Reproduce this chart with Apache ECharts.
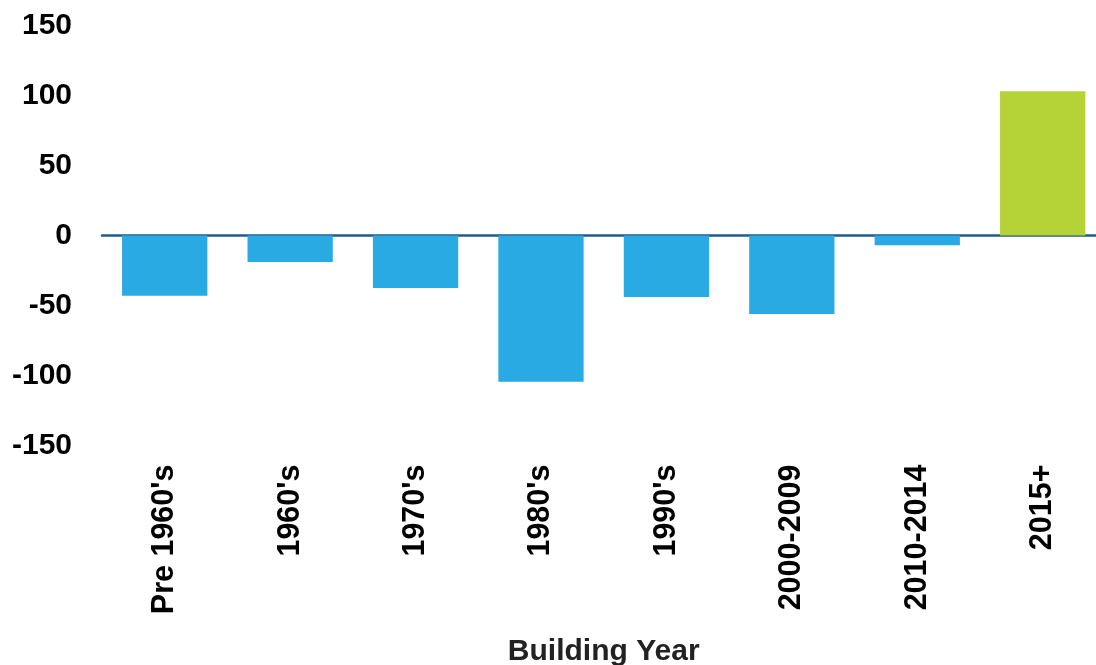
<!DOCTYPE html>
<html>
<head>
<meta charset="utf-8">
<script src="https://cdn.jsdelivr.net/npm/echarts@6/dist/echarts.min.js"></script>
<style>
html,body{margin:0;padding:0;background:#fff;}
#chart{width:1096px;height:665px;}
</style>
</head>
<body>
<div id="chart"></div>
<script>
const categories = ["Pre 1960's", "1960's", "1970's", "1980's", "1990's", "2000-2009", "2010-2014", "2015+"];
const values = [-43, -19, -37.5, -104.5, -44, -56, -7, 103];
const yTicks = [-150, -100, -50, 0, 50, 100, 150];
const xTitle = "Building Year";

const BLUE = '#2aaae2';
const GREEN = '#b5d236';
const FONT = '"Liberation Sans", Arial, sans-serif';

const chart = echarts.init(document.getElementById('chart'), null, {renderer: 'canvas'});
chart.setOption({
  animation: false,
  backgroundColor: '#ffffff',
  grid: {left: 102, width: 1003.4, top: 25.5, height: 420, containLabel: false, outerBoundsMode: 'none'},
  xAxis: [
    {
      type: 'category',
      data: categories,
      position: 'bottom',
      axisLine: {show: true, onZero: true, lineStyle: {color: '#1f5b8b', width: 2.5}},
      axisTick: {show: false},
      axisLabel: {show: false},
      splitLine: {show: false}
    },
    {
      type: 'category',
      data: categories,
      position: 'bottom',
      axisLine: {show: false, onZero: false},
      axisTick: {show: false},
      splitLine: {show: false},
      axisLabel: {
        show: true,
        rotate: 90,
        margin: 19,
        interval: 0,
        color: '#000',
        fontFamily: FONT,
        fontWeight: 'bold',
        fontSize: 30.5
      },
      name: xTitle,
      nameLocation: 'middle',
      nameGap: 191,
      nameTextStyle: {color: '#222', fontFamily: FONT, fontWeight: 'bold', fontSize: 30}
    }
  ],
  yAxis: {
    type: 'value',
    min: yTicks[0],
    max: yTicks[yTicks.length - 1],
    interval: 50,
    axisLine: {show: false},
    axisTick: {show: false},
    splitLine: {show: false},
    axisLabel: {
      margin: 30,
      color: '#000',
      fontFamily: FONT,
      fontWeight: 'bold',
      fontSize: 30
    }
  },
  series: [{
    type: 'bar',
    xAxisIndex: 1,
    data: values.map(v => ({value: v, itemStyle: {color: v >= 0 ? GREEN : BLUE}})),
    barCategoryGap: '32%',
    z: 1
  }]
});
</script>
</body>
</html>
